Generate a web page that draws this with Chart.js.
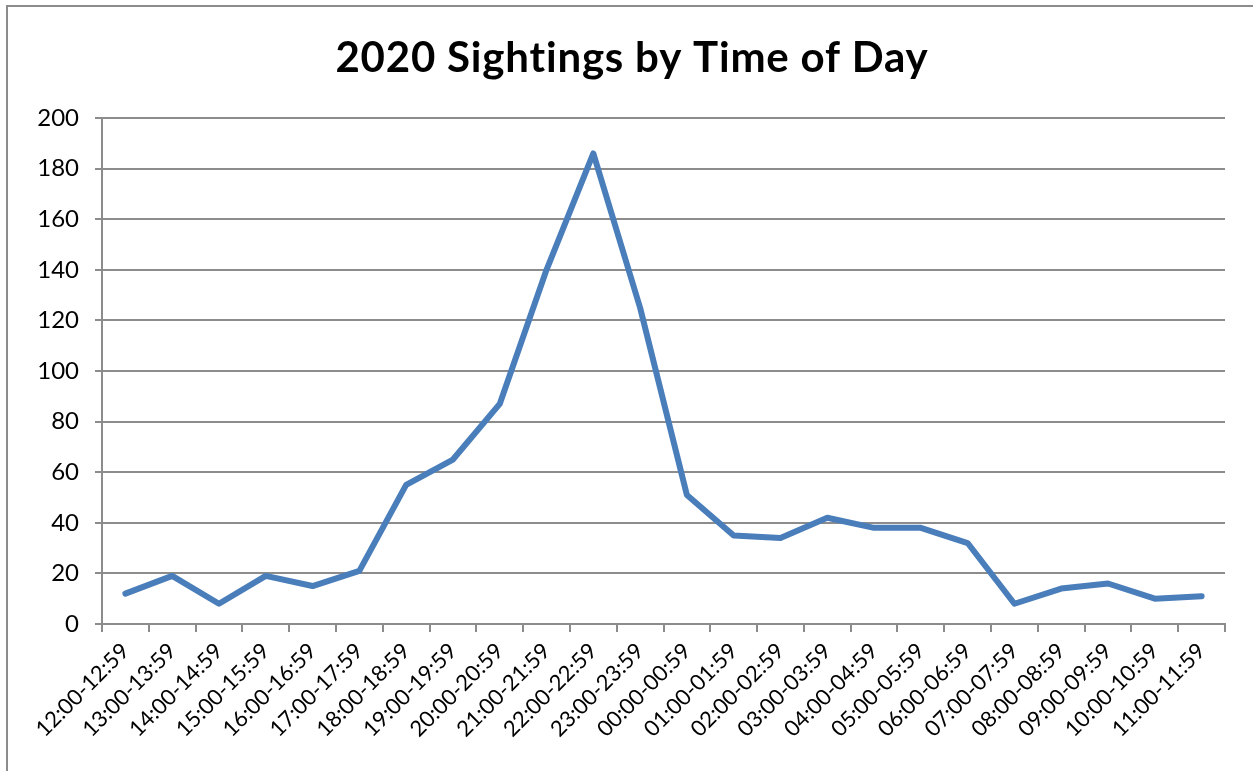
<!DOCTYPE html>
<html>
<head>
<meta charset="utf-8">
<script src="https://cdn.jsdelivr.net/npm/chart.js@4.4.1/dist/chart.umd.min.js"></script>
<style>
  html, body { margin: 0; padding: 0; background: #fff; }
  #wrap { width: 1253px; height: 771px; position: relative; }
</style>
</head>
<body>
<div id="wrap"><canvas id="c" width="1253" height="771"></canvas></div>
<script>
const chartTitle = "2020 Sightings by Time of Day";
const categories = [
  "12:00-12:59","13:00-13:59","14:00-14:59","15:00-15:59","16:00-16:59","17:00-17:59",
  "18:00-18:59","19:00-19:59","20:00-20:59","21:00-21:59","22:00-22:59","23:00-23:59",
  "00:00-00:59","01:00-01:59","02:00-02:59","03:00-03:59","04:00-04:59","05:00-05:59",
  "06:00-06:59","07:00-07:59","08:00-08:59","09:00-09:59","10:00-10:59","11:00-11:59"
];
const sightings = [12, 19, 8, 19, 15, 21, 55, 65, 87, 140, 186, 125, 51, 35, 34, 42, 38, 38, 32, 8, 14, 16, 10, 11];
const yTicks = [0, 20, 40, 60, 80, 100, 120, 140, 160, 180, 200];

const FONT = "Lato, 'Open Sans', 'Liberation Sans', sans-serif";
const GRID = "#8c8c8c";

const framePlugin = {
  id: 'frame',
  beforeDraw(chart) {
    const ctx = chart.ctx;
    ctx.save();
    ctx.fillStyle = '#fff';
    ctx.fillRect(0, 0, chart.width, chart.height);
    ctx.strokeStyle = '#8c8c8c';
    ctx.lineWidth = 2;
    ctx.strokeRect(7, 6, chart.width + 20, chart.height + 20);
    ctx.restore();
  },
  afterDraw(chart) {
    const ctx = chart.ctx;
    ctx.save();
    ctx.fillStyle = '#000';
    ctx.font = "bold 42px " + FONT;
    if ('letterSpacing' in ctx) ctx.letterSpacing = '0.8px';
    ctx.textAlign = 'center';
    ctx.textBaseline = 'middle';
    ctx.fillText(chartTitle, 632, 58);
    ctx.restore();
  }
};

new Chart(document.getElementById('c'), {
  type: 'line',
  data: {
    labels: categories,
    datasets: [{
      data: sightings,
      borderColor: '#4a7ebb',
      borderWidth: 6,
      pointRadius: 0,
      pointHoverRadius: 0,
      tension: 0,
      fill: false,
      borderJoinStyle: 'round',
      borderCapStyle: 'round'
    }]
  },
  options: {
    responsive: false,
    animation: false,
    devicePixelRatio: 1,
    layout: { padding: { top: 118, right: 28, left: 0, bottom: 0 } },
    plugins: {
      legend: { display: false },
      title: { display: false },
      tooltip: { enabled: false }
    },
    scales: {
      x: {
        type: 'category',
        offset: true,
        grid: {
          display: true,
          drawOnChartArea: false,
          drawTicks: true,
          tickLength: 8,
          color: GRID,
          lineWidth: 2,
          offset: true
        },
        border: { display: true, color: GRID, width: 2 },
        ticks: {
          autoSkip: false,
          minRotation: 45,
          maxRotation: 45,
          padding: 6,
          color: '#000',
          font: { family: FONT, size: 22 }
        },
        afterFit(scale) { scale.height = 771 - 624; }
      },
      y: {
        min: 0,
        max: 200,
        afterBuildTicks(scale) { scale.ticks = yTicks.map(v => ({ value: v })); },
        grid: {
          color: GRID,
          lineWidth: 2,
          tickLength: 7,
          drawTicks: true
        },
        border: { display: true, color: GRID, width: 2 },
        ticks: {
          padding: 16,
          color: '#000',
          font: { family: FONT, size: 24 }
        },
        afterFit(scale) { scale.width = 102; }
      }
    }
  },
  plugins: [framePlugin]
});
</script>
</body>
</html>
